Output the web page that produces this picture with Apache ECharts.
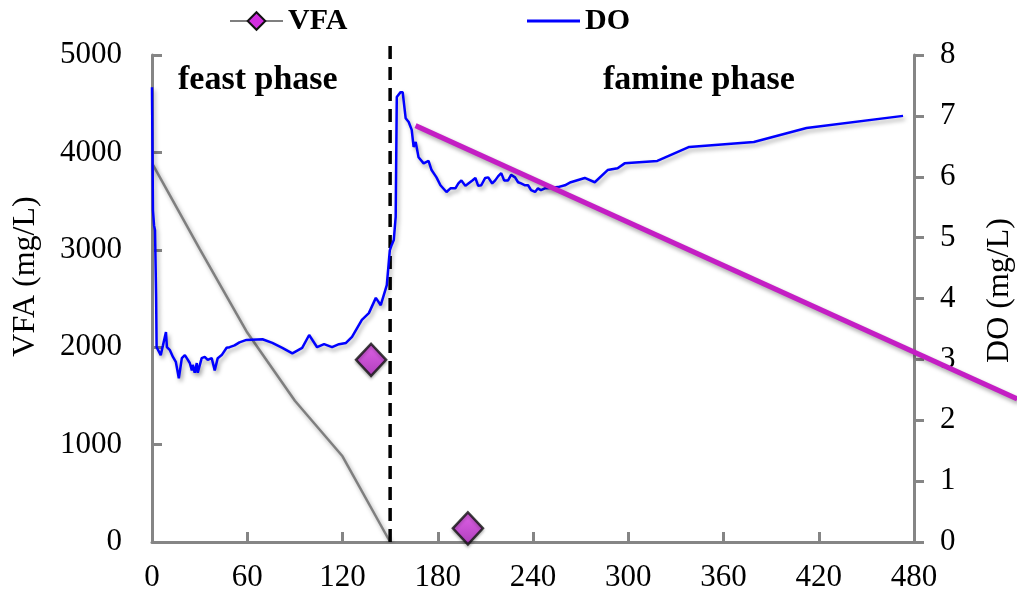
<!DOCTYPE html>
<html>
<head>
<meta charset="utf-8">
<title>VFA / DO</title>
<script src="https://cdn.jsdelivr.net/npm/echarts@6/dist/echarts.min.js"></script>
<style>
  html, body { margin: 0; padding: 0; background: #fff; }
  #chart { width: 1017px; height: 599px; }
</style>
</head>
<body>
<div id="chart"></div>
<script>
// VFA (mg/L) vs time (min) - gray line
var vfaLine = [[0, 3890], [30, 3010], [60, 2150], [90, 1450], [120, 880], [150, 0]];
// VFA measured points (diamonds)
var vfaPoints = [[138, 1870], [199, 140]];
// DO (mg/L) vs time (min)
var doData = [
  [0, 7.47], [0.6, 5.45], [1.3, 5.2], [1.9, 5.12], [2.6, 4.02], [2.9, 3.2], [3.8, 3.23],
  [5.5, 3.07], [6.9, 3.23], [8.8, 3.45], [9.4, 3.2], [11.3, 3.15], [13.2, 3.04], [15.0, 2.96],
  [16.9, 2.69], [18.8, 3.02], [20.7, 3.07], [21.9, 3.02], [23.8, 2.94], [25.1, 2.82], [25.7, 2.91],
  [26.9, 2.78], [28.2, 2.94], [28.8, 2.78], [31.3, 3.02], [33.2, 3.04], [35.1, 2.99], [37.6, 3.02],
  [39.5, 2.82], [41.4, 3.02], [43.9, 3.07], [47.0, 3.19], [48.9, 3.2], [52.0, 3.23], [55.1, 3.28],
  [59.5, 3.32], [69.6, 3.33], [75.8, 3.27], [82.1, 3.19], [88.4, 3.10], [94.6, 3.19], [99.0, 3.40],
  [104.0, 3.20], [108.4, 3.25], [113.4, 3.20], [117.8, 3.25], [122.2, 3.27], [126.0, 3.37],
  [132.2, 3.65], [136.6, 3.76], [141.0, 4.01], [144.1, 3.89], [147.9, 4.22], [149.8, 4.79],
  [151.0, 4.88], [152.3, 4.96], [153.5, 5.34], [154.2, 7.31], [156.6, 7.39], [157.9, 7.39],
  [159.8, 6.96], [161.7, 6.90], [163.6, 6.77], [164.8, 6.49], [166.1, 6.57], [167.9, 6.32],
  [171.1, 6.22], [174.2, 6.26], [176.1, 6.11], [179.2, 5.99], [181.7, 5.86], [185.5, 5.75],
  [188.0, 5.81], [191.1, 5.81], [193.0, 5.89], [194.9, 5.94], [197.4, 5.85], [199.3, 5.89],
  [201.8, 5.94], [203.7, 5.98], [205.5, 5.85], [207.4, 5.86], [209.9, 5.98], [211.8, 5.99],
  [214.3, 5.89], [216.2, 5.94], [218.1, 6.01], [220.0, 6.06], [221.8, 5.94], [224.3, 5.94],
  [226.2, 6.03], [228.7, 5.99], [230.6, 5.91], [232.5, 5.89], [235.0, 5.86], [236.9, 5.86],
  [238.8, 5.78], [241.3, 5.75], [243.1, 5.81], [245.0, 5.78], [247.5, 5.81], [249.4, 5.81],
  [255.7, 5.83], [260.1, 5.86], [263.8, 5.91], [272.6, 5.98], [278.9, 5.91], [287.0, 6.11],
  [293.3, 6.14], [297.7, 6.22], [318.3, 6.26], [338.4, 6.49], [379.1, 6.57], [412.3, 6.80],
  [473.1, 7.0]
];
// linear trend (DO axis), runs off the right edge
var trendLine = [[166, 6.84], [545, 2.35]];
// feast / famine boundary
var phaseLine = [[150, 0], [150, 5100]];

var serif = '"Liberation Serif", "DejaVu Serif", serif';
var shadow = { shadowColor: 'rgba(0,0,0,0.35)', shadowBlur: 4, shadowOffsetX: 2, shadowOffsetY: 3 };

var chart = echarts.init(document.getElementById('chart'), null, { renderer: 'canvas' });

chart.setOption({
  backgroundColor: '#fff',
  animation: false,
  textStyle: { fontFamily: serif, color: '#000' },
  grid: [
    { left: 152, right: 103, top: 55, bottom: 57, outerBoundsMode: 'none' },
    // same scale as the main grid (762px for 480 min) but wider, so the trend line can run past x=480
    { left: 152, width: 889, top: 55, bottom: 57, outerBoundsMode: 'none' }
  ],
  legend: [
    {
      data: ['VFA'], left: 229, top: 6, padding: 0, itemWidth: 53, itemHeight: 22,
      textStyle: { fontFamily: serif, fontSize: 30, fontWeight: 'bold', color: '#000' }
    },
    {
      data: ['DO'], left: 527, top: 6, padding: 0, itemWidth: 53, itemHeight: 3, icon: 'rect',
      textStyle: { fontFamily: serif, fontSize: 30, fontWeight: 'bold', color: '#000' }
    }
  ],
  xAxis: [
    {
      type: 'value', min: 0, max: 480, interval: 60, gridIndex: 0,
      axisLine: { onZero: false, lineStyle: { color: '#858585', width: 3 } },
      axisTick: { inside: true, length: 10, lineStyle: { color: '#858585', width: 3 } },
      axisLabel: { fontSize: 31, color: '#000', margin: 20, fontFamily: serif },
      splitLine: { show: false }
    },
    {
      type: 'value', min: 0, max: 560, gridIndex: 1, show: false
    }
  ],
  yAxis: [
    {
      type: 'value', min: 0, max: 5000, interval: 1000, gridIndex: 0,
      name: 'VFA (mg/L)', nameLocation: 'middle', nameGap: 110, nameRotate: 90,
      nameTextStyle: { fontSize: 32, color: '#000', fontFamily: serif, padding: [0, 0, 0, 44] },
      axisLine: { show: true, lineStyle: { color: '#858585', width: 3 } },
      axisTick: { show: true, inside: true, length: 10, lineStyle: { color: '#858585', width: 3 } },
      axisLabel: { fontSize: 31, color: '#000', margin: 30, fontFamily: serif,
        formatter: function (v) { return String(v); } },
      splitLine: { show: false }
    },
    {
      type: 'value', min: 0, max: 8, interval: 1, position: 'right', gridIndex: 0,
      name: 'DO (mg/L)', nameLocation: 'middle', nameGap: 70, nameRotate: 90,
      nameTextStyle: { fontSize: 32, color: '#000', fontFamily: serif, padding: [0, 0, 0, 16] },
      axisLine: { show: true, lineStyle: { color: '#858585', width: 3 } },
      axisTick: { show: true, inside: false, length: 10, lineStyle: { color: '#858585', width: 3 } },
      axisLabel: { fontSize: 31, color: '#000', margin: 26, fontFamily: serif },
      splitLine: { show: false }
    },
    {
      type: 'value', min: 0, max: 8, gridIndex: 1, show: false
    }
  ],
  graphic: [
    { type: 'text', left: 178, top: 63, z: 10,
      style: { text: 'feast phase', font: 'bold 34px ' + serif, fill: '#000' } },
    { type: 'text', left: 603, top: 63, z: 10,
      style: { text: 'famine phase', font: 'bold 34px ' + serif, fill: '#000' } }
  ],
  series: [
    {
      name: 'VFA', type: 'line', xAxisIndex: 0, yAxisIndex: 0, data: vfaLine,
      showSymbol: false, symbol: 'diamond', symbolSize: 18, z: 2,
      lineStyle: Object.assign({ color: '#7f7f7f', width: 2.5 }, shadow),
      itemStyle: { color: '#d22ee0', borderColor: '#111', borderWidth: 1.5 }
    },
    {
      name: 'phase', type: 'line', xAxisIndex: 0, yAxisIndex: 0, data: phaseLine, clip: false,
      showSymbol: false, z: 3, silent: true,
      lineStyle: { color: '#000', width: 3.5, type: [13, 8] }
    },
    {
      name: 'DO', type: 'line', xAxisIndex: 0, yAxisIndex: 1, data: doData,
      showSymbol: false, symbol: 'none', z: 4,
      lineStyle: Object.assign({ color: '#0000ff', width: 2.5 }, shadow),
      itemStyle: { color: '#0000ff' }
    },
    {
      name: 'trend', type: 'line', xAxisIndex: 1, yAxisIndex: 2, data: trendLine,
      showSymbol: false, z: 5, silent: true,
      lineStyle: Object.assign({ color: '#c41ec4', width: 5 }, shadow)
    },
    {
      name: 'VFA points', type: 'scatter', xAxisIndex: 0, yAxisIndex: 0, data: vfaPoints,
      symbol: 'diamond', symbolSize: [30, 32], z: 6,
      itemStyle: {
        color: new echarts.graphic.LinearGradient(0, 0, 0, 1, [
          { offset: 0, color: '#ea4cf5' },
          { offset: 1, color: '#a81cb8' }
        ]),
        borderColor: '#111', borderWidth: 2.5,
        shadowColor: 'rgba(0,0,0,0.3)', shadowBlur: 3, shadowOffsetY: 2
      }
    }
  ]
});
</script>
</body>
</html>
